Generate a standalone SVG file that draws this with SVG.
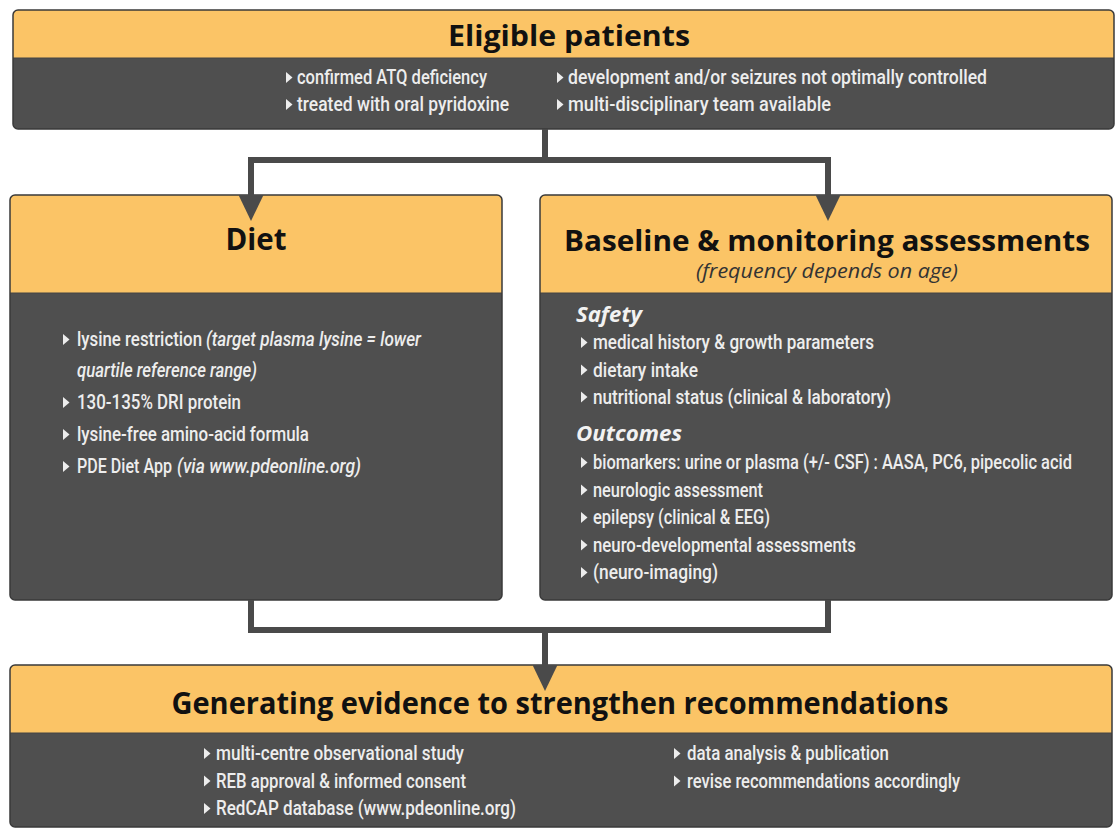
<svg xmlns="http://www.w3.org/2000/svg" xmlns:xlink="http://www.w3.org/1999/xlink" width="1115" height="830" viewBox="0 0 1115 830">
<style>
.body{fill:#4f4f4f}
.head{fill:#fbc466}
.frame{fill:none;stroke:#3a3a3a;stroke-width:1.5}
.sep{stroke:#444;stroke-width:1.2}
.title{font-family:"Open Sans","Liberation Sans",sans-serif;font-weight:700;fill:#111;text-anchor:middle}
.sub{font-family:"Open Sans","Liberation Sans",sans-serif;font-style:italic;font-size:20px;fill:#333;text-anchor:middle}
.t{font-family:Roboto,"Liberation Sans",sans-serif;font-weight:500;font-size:21px;fill:#ededed}
.s{font-size:20px}
.i{font-style:italic}
.sec{font-family:"Open Sans","Liberation Sans",sans-serif;font-weight:700;font-style:italic;font-size:22px;fill:#f2f2f2}
.bul{fill:#ededed}
.conn{fill:none;stroke:#4a4a4a;stroke-width:6;stroke-linejoin:miter}
</style>
<defs>
<path id="bul" class="bul" d="M0,-5.5 L6.5,0 L0,5.5 Z"/>
<marker id="arrow" markerUnits="userSpaceOnUse" markerWidth="26" markerHeight="25" viewBox="0 0 26 25" refX="0" refY="12.5" orient="auto">
<path d="M0,0 L26,12.5 L0,25 Z" fill="#4a4a4a"/>
</marker>
</defs>

<rect width="1115" height="830" fill="#ffffff"/>

<g id="eligible">
<rect class="body" x="13" y="10" width="1101" height="119" rx="5"/>
<path class="head" d="M13,58 V15 Q13,10 18,10 H1109 Q1114,10 1114,15 V58 Z"/>
<line class="sep" x1="13" y1="58" x2="1114" y2="58"/>
<rect class="frame" x="13" y="10" width="1101" height="119" rx="5"/>
<text class="title" x="569" y="46" font-size="29" textLength="242" lengthAdjust="spacingAndGlyphs">Eligible patients</text>
<use href="#bul" x="286" y="77.5"/>
<text class="t s" x="297" y="84" textLength="190" lengthAdjust="spacingAndGlyphs">confirmed ATQ deficiency</text>
<use href="#bul" x="286" y="104.5"/>
<text class="t s" x="297" y="111" textLength="212" lengthAdjust="spacingAndGlyphs">treated with oral pyridoxine</text>
<use href="#bul" x="557" y="77.5"/>
<text class="t s" x="568" y="84" textLength="419" lengthAdjust="spacingAndGlyphs">development and/or seizures not optimally controlled</text>
<use href="#bul" x="557" y="104.5"/>
<text class="t s" x="568" y="111" textLength="263" lengthAdjust="spacingAndGlyphs">multi-disciplinary team available</text>
</g>

<g id="diet">
<rect class="body" x="10" y="195" width="492" height="405" rx="5"/>
<path class="head" d="M10,293 V200 Q10,195 15,195 H497 Q502,195 502,200 V293 Z"/>
<line class="sep" x1="10" y1="293" x2="502" y2="293"/>
<rect class="frame" x="10" y="195" width="492" height="405" rx="5"/>
<text class="title" x="256" y="250" font-size="31" textLength="61" lengthAdjust="spacingAndGlyphs">Diet</text>
<use href="#bul" x="63" y="339.5"/>
<text class="t" x="77" y="346" textLength="125" lengthAdjust="spacingAndGlyphs">lysine restriction</text>
<text class="t i" x="206" y="346" textLength="215" lengthAdjust="spacingAndGlyphs">(target plasma lysine = lower</text>
<text class="t i" x="77" y="377" textLength="180" lengthAdjust="spacingAndGlyphs">quartile reference range)</text>
<use href="#bul" x="63" y="402.5"/>
<text class="t" x="77" y="409" textLength="164" lengthAdjust="spacingAndGlyphs">130-135% DRI protein</text>
<use href="#bul" x="63" y="434.5"/>
<text class="t" x="77" y="441" textLength="232" lengthAdjust="spacingAndGlyphs">lysine-free amino-acid formula</text>
<use href="#bul" x="63" y="466.5"/>
<text class="t" x="77" y="473" textLength="95" lengthAdjust="spacingAndGlyphs">PDE Diet App</text>
<text class="t i" x="177" y="473" textLength="184" lengthAdjust="spacingAndGlyphs">(via www.pdeonline.org)</text>
</g>

<g id="baseline">
<rect class="body" x="540" y="195" width="572" height="405" rx="5"/>
<path class="head" d="M540,293 V200 Q540,195 545,195 H1107 Q1112,195 1112,200 V293 Z"/>
<line class="sep" x1="540" y1="293" x2="1112" y2="293"/>
<rect class="frame" x="540" y="195" width="572" height="405" rx="5"/>
<text class="title" x="827" y="251" font-size="29" textLength="526" lengthAdjust="spacingAndGlyphs">Baseline &amp; monitoring assessments</text>
<text class="sub" x="827" y="278" textLength="262" lengthAdjust="spacingAndGlyphs">(frequency depends on age)</text>
<text class="sec" x="576" y="322" textLength="66" lengthAdjust="spacingAndGlyphs">Safety</text>
<use href="#bul" x="581" y="342.5"/>
<text class="t" x="593" y="349" textLength="281" lengthAdjust="spacingAndGlyphs">medical history &amp; growth parameters</text>
<use href="#bul" x="581" y="370"/>
<text class="t" x="593" y="376.5" textLength="105" lengthAdjust="spacingAndGlyphs">dietary intake</text>
<use href="#bul" x="581" y="397"/>
<text class="t" x="593" y="403.5" textLength="298" lengthAdjust="spacingAndGlyphs">nutritional status (clinical &amp; laboratory)</text>
<text class="sec" x="576" y="441" textLength="106" lengthAdjust="spacingAndGlyphs">Outcomes</text>
<use href="#bul" x="581" y="462.5"/>
<text class="t" x="593" y="469" textLength="479" lengthAdjust="spacingAndGlyphs">biomarkers: urine or plasma (+/- CSF) : AASA, PC6, pipecolic acid</text>
<use href="#bul" x="581" y="490"/>
<text class="t" x="593" y="496.5" textLength="170" lengthAdjust="spacingAndGlyphs">neurologic assessment</text>
<use href="#bul" x="581" y="517.5"/>
<text class="t" x="593" y="524" textLength="177" lengthAdjust="spacingAndGlyphs">epilepsy (clinical &amp; EEG)</text>
<use href="#bul" x="581" y="545"/>
<text class="t" x="593" y="551.5" textLength="263" lengthAdjust="spacingAndGlyphs">neuro-developmental assessments</text>
<use href="#bul" x="581" y="572.5"/>
<text class="t" x="593" y="579" textLength="125" lengthAdjust="spacingAndGlyphs">(neuro-imaging)</text>
</g>

<g id="evidence">
<rect class="body" x="10" y="665" width="1102" height="162" rx="5"/>
<path class="head" d="M10,733 V670 Q10,665 15,665 H1107 Q1112,665 1112,670 V733 Z"/>
<line class="sep" x1="10" y1="733" x2="1112" y2="733"/>
<rect class="frame" x="10" y="665" width="1102" height="162" rx="5"/>
<text class="title" x="560" y="714" font-size="30" textLength="777" lengthAdjust="spacingAndGlyphs">Generating evidence to strengthen recommendations</text>
<use href="#bul" x="204" y="753.5"/>
<text class="t s" x="216" y="760" textLength="248" lengthAdjust="spacingAndGlyphs">multi-centre observational study</text>
<use href="#bul" x="204" y="781"/>
<text class="t s" x="216" y="787.5" textLength="250" lengthAdjust="spacingAndGlyphs">REB approval &amp; informed consent</text>
<use href="#bul" x="204" y="808.5"/>
<text class="t s" x="216" y="815" textLength="300" lengthAdjust="spacingAndGlyphs">RedCAP database (www.pdeonline.org)</text>
<use href="#bul" x="674" y="753.5"/>
<text class="t s" x="687" y="760" textLength="202" lengthAdjust="spacingAndGlyphs">data analysis &amp; publication</text>
<use href="#bul" x="674" y="781"/>
<text class="t s" x="687" y="787.5" textLength="273" lengthAdjust="spacingAndGlyphs">revise recommendations accordingly</text>
</g>

<g id="connectors">
<path class="conn" d="M545,129 V160"/>
<path class="conn" d="M548,160 H251 V195" marker-end="url(#arrow)"/>
<path class="conn" d="M542,160 H828 V195" marker-end="url(#arrow)"/>
<path class="conn" d="M251,600 V630 H828 V600"/>
<path class="conn" d="M545,630 V665" marker-end="url(#arrow)"/>
</g>
</svg>
